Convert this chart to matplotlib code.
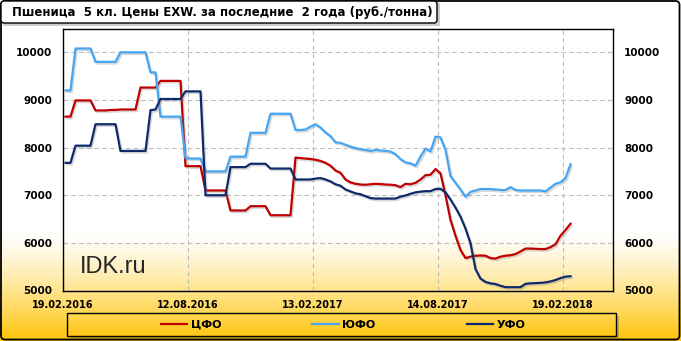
import numpy as np
import matplotlib
matplotlib.use('Agg')
import matplotlib.pyplot as plt
import matplotlib.patheffects as pe
from matplotlib.patches import Rectangle, FancyBboxPatch

# Chart texts
title = 'Пшеница  5 кл. Цены EXW. за последние  2 года (руб./тонна)'
date_labels = ['19.02.2016', '12.08.2016', '13.02.2017', '14.08.2017', '19.02.2018']
date_positions = [-0.5, 24.5, 49.5, 74.5, 99.5]  # weekly category positions of the labels
y_ticks = [5000, 6000, 7000, 8000, 9000, 10000]
series_names = ['ЦФО', 'ЮФО', 'УФО']
series_colors = ['#C00000', '#45A5F5', '#0E2A6B']

# Weekly prices, rub/t
cfo = [8650, 8650, 8990, 8990, 8990, 8990, 8780, 8780, 8780, 8790,
       8790, 8800, 8800, 8800, 8800, 9260, 9260, 9260, 9260, 9400,
       9400, 9400, 9400, 9400, 7610, 7610, 7610, 7610, 7100, 7100,
       7100, 7100, 7100, 6680, 6680, 6680, 6680, 6770, 6770, 6770,
       6770, 6580, 6580, 6580, 6580, 6580,
       7790, 7780, 7770, 7760, 7745, 7720, 7680, 7620, 7520, 7470,
       7330, 7270, 7240, 7225, 7220, 7230, 7240, 7235, 7225, 7220,
       7210, 7170, 7240, 7230, 7260, 7330, 7420, 7430, 7550, 7460,
       7000, 6480, 6150, 5850, 5680, 5710, 5730, 5735, 5730, 5680,
       5670, 5710, 5730, 5740, 5765, 5820, 5880, 5880, 5875, 5870,
       5870, 5910, 5970, 6150, 6270, 6400]
yfo = [9200, 9200, 10080, 10080, 10080, 10080, 9800, 9800, 9800, 9800,
       9800, 10000, 10000, 10000, 10000, 10000, 10000, 9580, 9580, 8650,
       8650, 8650, 8650, 8650, 7780, 7770, 7770, 7770, 7500, 7500,
       7500, 7500, 7500, 7810, 7810, 7810, 7810, 8310, 8310, 8310,
       8310, 8710, 8710, 8710, 8710, 8710,
       8370, 8370, 8380, 8440, 8490, 8420, 8320, 8240, 8110, 8100,
       8060, 8020, 7990, 7965, 7950, 7930, 7950, 7940, 7930, 7917,
       7860, 7760, 7690, 7670, 7620, 7810, 7980, 7920, 8230, 8215,
       7950, 7400, 7260, 7120, 6970, 7070, 7100, 7130, 7130, 7130,
       7120, 7110, 7110, 7170, 7110, 7100, 7100, 7100, 7100, 7100,
       7080, 7160, 7240, 7270, 7360, 7650]
ufo = [7680, 7680, 8040, 8040, 8040, 8040, 8490, 8490, 8490, 8490,
       8490, 7930, 7930, 7930, 7930, 7930, 7930, 8785, 8800, 9020,
       9020, 9020, 9020, 9020, 9180, 9180, 9180, 9180, 7000, 7000,
       7000, 7000, 7000, 7590, 7590, 7590, 7590, 7660, 7660, 7660,
       7660, 7560, 7560, 7560, 7560, 7560,
       7330, 7330, 7330, 7330, 7350, 7360, 7330, 7290, 7230, 7200,
       7120, 7080, 7040, 7020, 6980, 6940, 6930, 6930, 6930, 6930,
       6930, 6970, 6995, 7030, 7060, 7075, 7085, 7085, 7130, 7135,
       7060, 6910, 6740, 6550, 6300, 5990, 5450, 5250, 5180, 5150,
       5135, 5100, 5070, 5070, 5070, 5070, 5140, 5150, 5155, 5160,
       5170, 5190, 5220, 5260, 5290, 5300]

W, H = 681, 341
fig = plt.figure(figsize=(W / 100, H / 100), dpi=100)

# Background gradient: white top, gold at the bottom
bg = fig.add_axes([0, 0, 1, 1], zorder=0)
rows = np.arange(H)
t = np.clip((rows - 232) / (H - 232), 0, 1) ** 1.25
t = t[:, None]
white = np.array([1.0, 1.0, 1.0])
gold = np.array([1.0, 0.765, 0.02])
grad = white * (1 - t) + gold * t
bg.imshow(np.repeat(grad[:, None, :], 2, axis=1), aspect='auto', extent=[0, W, H, 0])
bg.set_xlim(0, W)
bg.set_ylim(H, 0)
bg.axis('off')

# Main plot
ax = fig.add_axes([63 / W, (H - 290.5) / H, 550 / W, 262 / H], zorder=2)
ax.patch.set_alpha(0)
x = np.arange(len(cfo))
shadow = [pe.SimpleLineShadow(offset=(1.0, -1.2), shadow_color='#808080', alpha=0.3), pe.Normal()]
lines = []
for values, name, color in zip([cfo, yfo, ufo], series_names, series_colors):
    ln, = ax.plot(x, values, color=color, lw=1.6, label=name, path_effects=shadow, zorder=3)
    lines.append(ln)

ax.set_xlim(-0.5, 109.5)
ax.set_ylim(5000, 10500)
ax.set_yticks(y_ticks)
ax.set_yticklabels([str(v) for v in y_ticks], fontsize=7.5, fontweight='bold')
ax.set_xticks(date_positions)
ax.set_xticklabels(date_labels, fontsize=7, fontweight='bold')
ax.tick_params(axis='y', length=0, pad=8, labelright=True)
ax.tick_params(axis='x', length=0, pad=6.5)
ax.grid(True, color='#bdbdbd', linestyle=(0, (4, 3)), linewidth=0.8)
for s in ax.spines.values():
    s.set_color('black')
    s.set_linewidth(1.0)

# Watermark
fig.text(80 / W, 1 - 273 / H, 'IDK.ru', fontsize=17, color='#262626',
         family='Liberation Sans', va='baseline', zorder=5)

# Decorations in pixel coordinates
deco = fig.add_axes([0, 0, 1, 1], zorder=1)
deco.set_xlim(0, W)
deco.set_ylim(H, 0)
deco.axis('off')
# outer border
deco.add_patch(FancyBboxPatch((1, 1), W - 2.5, H - 2.5, boxstyle='round,pad=0,rounding_size=4',
                              fc='none', ec='black', lw=1.3))
# legend frame with a shadow on the right and bottom
deco.add_patch(Rectangle((616, 316), 3, 23, fc='#7a6a40', ec='none', alpha=0.35))
deco.add_patch(Rectangle((70, 336), 546, 3, fc='#7a6a40', ec='none', alpha=0.35))
deco.add_patch(Rectangle((67, 313), 549, 23, fc='none', ec='black', lw=1.0))

# title box with shadow (above everything)
top = fig.add_axes([0, 0, 1, 1], zorder=6)
top.set_xlim(0, W)
top.set_ylim(H, 0)
top.axis('off')
top.add_patch(Rectangle((3, 3), 437, 23, fc='#9a9a9a', ec='none', alpha=0.5))
top.add_patch(FancyBboxPatch((1, 1), 436, 22, boxstyle='round,pad=0,rounding_size=3',
                             fc='white', ec='black', lw=1.0))
top.text(12, 12.5, title, fontsize=8.45, fontweight='bold', va='center', ha='left', color='black')

leg = fig.legend(handles=lines, labels=series_names, loc='center',
                 bbox_to_anchor=(343 / W, 1 - 325 / H), ncol=3, frameon=False,
                 prop={'weight': 'bold', 'size': 8}, handlelength=2.4,
                 handletextpad=0.3, columnspacing=8.2)
for h in leg.legend_handles:
    h.set_path_effects([pe.Normal()])

fig.savefig('out.png', dpi=100)
